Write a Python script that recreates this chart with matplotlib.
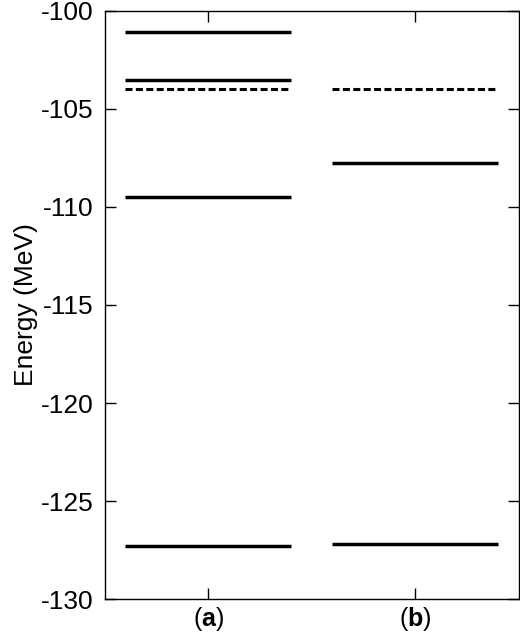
import matplotlib
matplotlib.use("Agg")
import matplotlib.pyplot as plt

categories = ["a", "b"]
solid_levels_a = [-101.1, -103.55, -109.5, -127.3]
dashed_levels_a = [-103.97]
solid_levels_b = [-107.78, -127.18]
dashed_levels_b = [-103.97]
yticks = [-130, -125, -120, -115, -110, -105, -100]

plt.rcParams['font.family'] = ['Liberation Sans', 'DejaVu Sans']
plt.rcParams['mathtext.fontset'] = 'custom'
plt.rcParams['mathtext.bf'] = 'Liberation Sans:bold'
plt.rcParams['mathtext.rm'] = 'Liberation Sans'

fig = plt.figure(figsize=(5.2, 6.34), dpi=100)
ax = fig.add_axes([0.201, 0.055, 0.797, 0.928])

centers = [0.25, 0.75]
half = 0.2
groups = [(solid_levels_a, dashed_levels_a), (solid_levels_b, dashed_levels_b)]
for c, (solid, dashed) in zip(centers, groups):
    for y in solid:
        ax.hlines(y, c - half, c + half, colors='black', linewidth=2.5, capstyle='butt')
    for y in dashed:
        ax.hlines(y, c - half, c + half, colors='black', linewidth=2.2,
                  linestyles=(0, (2.3, 1.1)))

ax.set_xlim(0, 1)
ax.set_ylim(-130, -100)
ax.set_yticks(yticks)
ax.set_yticklabels([str(t) for t in yticks])
ax.set_xticks(centers)
ax.set_xticklabels([r'($\mathbf{%s}$)' % c for c in categories])
ax.tick_params(axis='both', direction='in', length=8, width=1, labelsize=19,
               top=True, right=True, pad=8)
ax.tick_params(axis='x', pad=4, labelsize=18)
for s in ax.spines.values():
    s.set_linewidth(1.0)
ax.set_ylabel('Energy (MeV)', fontsize=19, labelpad=2)

fig.savefig('out.png', dpi=100)
